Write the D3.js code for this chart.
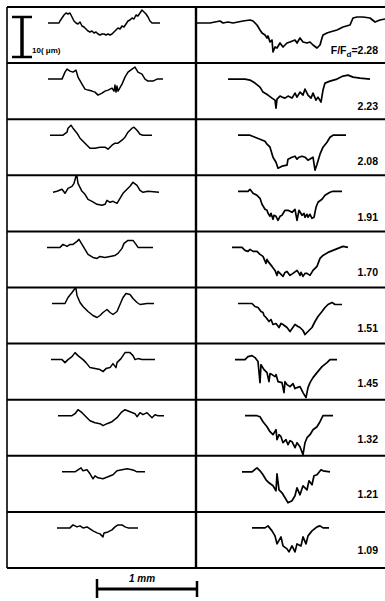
<!DOCTYPE html>
<html>
<head>
<meta charset="utf-8">
<script src="https://cdn.jsdelivr.net/npm/d3@7"></script>
<style>
  html, body { margin: 0; padding: 0; background: #fff; }
  svg { display: block; }
  text { font-family: "Liberation Sans", Arial, sans-serif; fill: #000; }
</style>
</head>
<body>
<svg id="fig" width="385" height="601"></svg>
<script>
// Surface profiles: [distance along scan (mm), height (µm)], one array per panel.
// Left column: profiles at low load; right column: profiles labelled by F/Fd.
const L1 = [[0.41,0],[0.52,0],[0.53,0.5],[0.55,1.25],[0.57,2],[0.59,2.5],[0.61,2.25],[0.63,2.5],[0.65,1.5],[0.67,0.5],[0.69,0],[0.71,-0.25],[0.73,0.25],[0.75,-0.75],[0.77,-1],[0.79,-1.5],[0.81,-2],[0.83,-2.25],[0.85,-2],[0.87,-2.5],[0.89,-2.25],[0.91,-2.75],[0.93,-3],[0.95,-2.75],[0.97,-2.75],[0.99,-3],[1.01,-2.75],[1.03,-3],[1.05,-2.75],[1.07,-2.25],[1.09,-1.75],[1.11,-1.25],[1.13,-1.5],[1.15,-0.75],[1.17,-1],[1.19,-0.25],[1.21,0.5],[1.23,0.75],[1.25,1.25],[1.27,1],[1.29,2],[1.31,1.75],[1.33,2.5],[1.35,3.25],[1.37,2.75],[1.39,2.25],[1.41,1.5],[1.43,0.5],[1.45,0],[1.53,0]];
const L2 = [[0.41,0],[0.55,0],[0.58,1.75],[0.60,2.5],[0.63,2],[0.66,1.75],[0.69,2.25],[0.71,0.5],[0.75,-1.25],[0.78,-2.5],[0.81,-2.75],[0.85,-3],[0.88,-3.25],[0.91,-4],[0.95,-3.5],[0.98,-3],[1.01,-2.75],[1.05,-2.25],[1.07,-3],[1.08,-1.5],[1.09,-3.25],[1.10,-1.75],[1.11,-3],[1.15,-1.25],[1.18,0.5],[1.21,1.75],[1.25,2.5],[1.28,3],[1.31,1.75],[1.35,1.25],[1.38,0],[1.41,-0.5],[1.46,-0.5],[1.50,0],[1.56,0]];
const L3 = [[0.43,0],[0.56,0],[0.60,0.75],[0.61,1.75],[0.64,2.5],[0.66,1.75],[0.70,0.5],[0.73,-0.75],[0.78,-2],[0.83,-3.25],[0.88,-3.25],[0.93,-3],[0.98,-3],[1.01,-3.5],[1.05,-2.5],[1.08,-2],[1.11,-2],[1.15,-1.25],[1.18,-0.5],[1.21,0.75],[1.25,1.75],[1.27,2],[1.30,1.25],[1.33,0.25],[1.36,0],[1.45,0]];
const L4 = [[0.46,-0.25],[0.50,0],[0.55,0.5],[0.58,-0.5],[0.61,0.75],[0.65,1.25],[0.67,2],[0.69,3.75],[0.70,3.75],[0.71,2],[0.75,0],[0.78,-0.75],[0.81,-2],[0.85,-2.5],[0.90,-3.25],[0.95,-3.5],[0.98,-3.25],[1.00,-2.25],[1.03,-2.75],[1.06,-2.5],[1.10,-3],[1.13,-1.75],[1.16,-0.5],[1.20,0.5],[1.23,1.25],[1.26,2.25],[1.30,1.5],[1.33,0.25],[1.36,-0.25],[1.41,0],[1.52,-0.25]];
const L5 = [[0.40,0],[0.53,0],[0.56,0.75],[0.60,0.25],[0.63,0.75],[0.66,0.75],[0.70,1.5],[0.72,2],[0.75,0.75],[0.78,-0.5],[0.81,-1.75],[0.86,-2.5],[0.90,-2.75],[0.93,-2.25],[0.98,-2.5],[1.03,-2.25],[1.08,-2],[1.11,-1.5],[1.15,-0.25],[1.17,1],[1.21,1.75],[1.26,1.75],[1.29,0.75],[1.31,0],[1.46,0]];
const L6 = [[0.45,0],[0.58,0],[0.61,1.5],[0.65,2.75],[0.68,3.75],[0.69,3.75],[0.70,2],[0.73,0.25],[0.76,-0.75],[0.81,-2],[0.86,-3],[0.90,-3.5],[0.93,-3],[0.96,-2.25],[1.00,-1.5],[1.03,-2.25],[1.06,-2.75],[1.10,-2],[1.13,-0.25],[1.16,1.5],[1.19,2.5],[1.23,2.25],[1.26,1.25],[1.30,0.25],[1.33,-0.25],[1.40,0],[1.47,0]];
const L7 = [[0.44,0],[0.55,0],[0.58,-0.75],[0.61,0],[0.65,0.75],[0.68,1.75],[0.71,1],[0.76,0],[0.79,-0.75],[0.83,-2],[0.88,-2.25],[0.93,-2.5],[0.96,-3],[0.99,-2.25],[1.03,-2],[1.06,-1],[1.09,-2],[1.10,-0.75],[1.14,0.25],[1.18,1.75],[1.23,1.75],[1.26,1],[1.28,0],[1.31,0.25],[1.35,0],[1.48,0]];
const L8 = [[0.51,0],[0.65,0],[0.68,0.5],[0.71,1.5],[0.75,0.75],[0.78,0],[0.83,-1.25],[0.88,-1.75],[0.93,-2],[0.96,-2.5],[1.00,-2],[1.05,-1.5],[1.10,-0.5],[1.14,0.75],[1.18,1.5],[1.23,1],[1.28,0.5],[1.30,-0.25],[1.33,0.75],[1.36,0.25],[1.40,0.75],[1.45,-0.5],[1.48,0.25],[1.51,0],[1.57,0]];
const L9 = [[0.55,0],[0.68,0],[0.71,0.5],[0.74,1],[0.76,0.25],[0.80,0.5],[0.83,-0.5],[0.86,-1.75],[0.88,-1],[0.91,-1.5],[0.96,-1.75],[1.01,-1.25],[1.06,-0.75],[1.10,0.25],[1.15,0.5],[1.20,0.75],[1.25,0.5],[1.28,0.25],[1.30,0],[1.38,0]];
const L10 = [[0.50,0],[0.63,0],[0.66,0.75],[0.70,0.25],[0.73,0.5],[0.76,0],[0.80,0.25],[0.83,-0.25],[0.86,-0.75],[0.90,-1.25],[0.93,-1.5],[0.96,-2.25],[0.97,-1.25],[1.01,-1],[1.05,-0.5],[1.08,0.25],[1.11,0.75],[1.15,0.75],[1.18,0.25],[1.21,0],[1.31,0]];

const R1 = [[0.01,0],[0.14,0],[0.19,0.25],[0.24,0.5],[0.27,0],[0.32,0.25],[0.37,0],[0.42,0.25],[0.47,0.5],[0.54,0.75],[0.57,0.5],[0.61,-0.5],[0.64,-1.75],[0.66,-2.5],[0.69,-3],[0.71,-3.75],[0.72,-3.25],[0.74,-4.75],[0.76,-4.25],[0.77,-7.25],[0.79,-6],[0.81,-6.25],[0.84,-5],[0.87,-6],[0.91,-5],[0.94,-4.75],[0.99,-4.25],[1.01,-5],[1.04,-3.75],[1.07,-4.75],[1.11,-5],[1.14,-4.75],[1.17,-5.5],[1.21,-6.25],[1.24,-5.5],[1.26,-3.75],[1.27,-3],[1.31,-2.5],[1.34,-2.25],[1.41,-1.75],[1.47,-1],[1.54,-0.5],[1.57,1.25],[1.61,1.5],[1.67,1.5],[1.74,1.25],[1.79,0.25],[1.84,0.75],[1.89,1]];
const R2 = [[0.32,0],[0.49,0],[0.54,-0.25],[0.59,-1],[0.64,-2],[0.67,-3.25],[0.72,-4],[0.76,-4.75],[0.79,-5.25],[0.80,-7.25],[0.81,-5],[0.84,-4.25],[0.86,-4.5],[0.89,-4.75],[0.92,-4.25],[0.96,-4.75],[0.99,-3.5],[1.01,-4.5],[1.04,-3.25],[1.07,-4],[1.09,-2.5],[1.12,-4],[1.15,-4.75],[1.17,-3.5],[1.20,-5.25],[1.22,-4.5],[1.25,-5.75],[1.27,-2.75],[1.29,-1],[1.34,-0.5],[1.41,0],[1.47,0.75],[1.52,1],[1.57,0.5],[1.64,0.25],[1.74,0]];
const R3 = [[0.42,0],[0.54,0],[0.59,-0.5],[0.64,-1],[0.69,-1.5],[0.71,-2.25],[0.74,-3],[0.77,-5.5],[0.80,-6.75],[0.82,-8.25],[0.86,-7.75],[0.91,-7.5],[0.92,-6],[0.96,-5.5],[0.99,-5.25],[1.01,-6],[1.03,-5.5],[1.06,-5.25],[1.09,-5.5],[1.12,-6.25],[1.17,-5.5],[1.19,-8.75],[1.21,-7.25],[1.24,-4.75],[1.27,-3],[1.31,-1.75],[1.34,-0.5],[1.37,0],[1.50,0]];
const R4 = [[0.42,0],[0.52,0],[0.54,0.5],[0.57,-0.5],[0.61,-1],[0.64,-1.75],[0.66,-3.25],[0.69,-4.5],[0.71,-4.75],[0.72,-5.5],[0.74,-6.25],[0.75,-5.5],[0.77,-7],[0.78,-6],[0.80,-6.25],[0.82,-7.25],[0.84,-6.25],[0.86,-6],[0.89,-4.75],[0.92,-4.75],[0.96,-5.25],[0.99,-4.5],[1.01,-7.25],[1.03,-4.75],[1.06,-6],[1.08,-5.5],[1.09,-6.5],[1.11,-5.75],[1.12,-6.5],[1.14,-5.75],[1.16,-6.75],[1.18,-6.5],[1.20,-4],[1.22,-2.75],[1.26,-2],[1.29,-1],[1.34,-0.25],[1.37,0],[1.46,0]];
const R5 = [[0.36,0],[0.46,0],[0.49,-0.75],[0.52,-1],[0.54,-0.5],[0.57,-1],[0.61,-1],[0.64,-1.75],[0.67,-2.25],[0.70,-4],[0.71,-3],[0.72,-3.5],[0.76,-4.75],[0.79,-5.75],[0.81,-7],[0.82,-6],[0.84,-6.5],[0.87,-7.25],[0.89,-6.25],[0.91,-6],[0.94,-7],[0.97,-6.5],[1.01,-5.75],[1.03,-6.5],[1.04,-7],[1.05,-6.25],[1.07,-7.25],[1.09,-6.5],[1.11,-6.5],[1.14,-7],[1.17,-5.75],[1.21,-4.75],[1.24,-2.75],[1.27,-2],[1.32,-1.25],[1.37,-0.75],[1.42,-0.25],[1.47,0.25],[1.52,0]];
const R6 = [[0.42,0],[0.56,0],[0.59,-0.75],[0.62,-1],[0.65,-2],[0.67,-2.25],[0.68,-3],[0.70,-3.5],[0.73,-4.5],[0.75,-4],[0.77,-5.25],[0.80,-5],[0.83,-6],[0.85,-5],[0.87,-5.25],[0.91,-6],[0.94,-7],[0.99,-5.25],[1.02,-5.75],[1.04,-6],[1.07,-6.75],[1.09,-7.75],[1.12,-7],[1.16,-6],[1.19,-4.5],[1.22,-3.25],[1.26,-2],[1.29,-1],[1.32,-0.25],[1.36,0.25],[1.39,-0.25],[1.46,-0.25]];
const R7 = [[0.39,0],[0.49,0],[0.52,0.75],[0.56,1],[0.59,0.5],[0.62,-0.5],[0.64,-5.75],[0.65,-1.25],[0.68,-2.5],[0.71,-3.25],[0.73,-5.5],[0.74,-3.5],[0.76,-3.75],[0.79,-4.25],[0.80,-3.75],[0.82,-5.5],[0.86,-5.75],[0.88,-8.25],[0.89,-5.5],[0.91,-6.25],[0.94,-6.75],[0.97,-6],[0.99,-7.25],[1.01,-7],[1.04,-6.75],[1.07,-8.25],[1.10,-9.5],[1.12,-7],[1.14,-5.75],[1.17,-4.5],[1.21,-3.25],[1.26,-1.75],[1.31,-0.75],[1.34,0],[1.41,0]];
const R8 = [[0.49,0],[0.61,0],[0.64,-0.25],[0.67,-1.5],[0.71,-2.75],[0.74,-4],[0.77,-4.75],[0.80,-3.5],[0.81,-6],[0.83,-4.75],[0.85,-5.25],[0.87,-6.75],[0.90,-6],[0.92,-7.25],[0.94,-6.25],[0.96,-6.5],[0.99,-8],[1.01,-6.75],[1.04,-7.75],[1.07,-9.75],[1.09,-6.75],[1.11,-5.5],[1.14,-4.75],[1.17,-3.5],[1.21,-2.75],[1.24,-1.5],[1.27,0],[1.37,0]];
const R9 = [[0.46,0],[0.56,0],[0.61,1],[0.64,0.25],[0.67,-0.75],[0.70,-2],[0.73,-2.75],[0.77,-3.5],[0.80,-4.75],[0.81,-0.5],[0.83,-4.5],[0.86,-5.25],[0.89,-6.5],[0.92,-7.75],[0.96,-7.25],[0.99,-6],[1.01,-4],[1.04,-5.75],[1.07,-3.5],[1.11,-4.5],[1.13,-2.25],[1.16,-3.25],[1.18,-1],[1.21,-0.75],[1.25,0.5],[1.27,0.25],[1.34,0]];
const R10 = [[0.56,0],[0.69,0],[0.72,0.5],[0.76,-0.75],[0.79,-2],[0.81,-4],[0.85,-2.25],[0.87,-4.5],[0.91,-5.25],[0.93,-6],[0.96,-4.5],[0.99,-6],[1.01,-4],[1.05,-4.5],[1.07,-2.25],[1.10,-4],[1.12,-2],[1.16,-0.75],[1.21,0.25],[1.24,0.5],[1.27,0],[1.33,0]];

const leftProfiles = [L1, L2, L3, L4, L5, L6, L7, L8, L9, L10];
const rightProfiles = [R1, R2, R3, R4, R5, R6, R7, R8, R9, R10];
const ratioLabels = ["2.28", "2.23", "2.08", "1.91", "1.70", "1.51", "1.45", "1.32", "1.21", "1.09"];
const heightBar = 10;     // µm, vertical scale bar
const lengthBar = 1;      // mm, horizontal scale bar

const svg = d3.select("#fig");

// Panel grid
const frame = { left: 7, mid: 196, right: 388, top: 7, bottom: 568 };
const rows = d3.scaleBand().domain(d3.range(ratioLabels.length)).range([frame.top, frame.bottom]);
const baseOffset = 16;

// 1 mm = 100 px horizontally, 1 µm = 4 px vertically
const x = d3.scaleLinear().domain([0, 1]).range([0, 100]);
const y = d3.scaleLinear().domain([0, 10]).range([0, -40]);

const line = d3.line().x(d => x(d[0])).y(d => y(d[1]));

// frame lines
const g = svg.append("g").attr("stroke", "#000").attr("fill", "none");
g.append("line").attr("x1", frame.left).attr("x2", frame.left).attr("y1", frame.top).attr("y2", frame.bottom).attr("stroke-width", 1.6);
g.append("line").attr("x1", frame.mid).attr("x2", frame.mid).attr("y1", frame.top).attr("y2", frame.bottom).attr("stroke-width", 2.4);
const hLines = d3.range(ratioLabels.length + 1).map(i => frame.top + i * rows.step());
g.selectAll("line.row").data(hLines).join("line").attr("class", "row")
  .attr("x1", frame.left).attr("x2", frame.right)
  .attr("y1", d => d).attr("y2", d => d)
  .attr("stroke-width", 2);

// profiles
function drawColumn(profiles, left, width) {
  svg.append("g").selectAll("path").data(profiles).join("path")
    .attr("transform", (d, i) => `translate(${left},${rows(i) + baseOffset})`)
    .attr("d", line)
    .attr("fill", "none")
    .attr("stroke", "#000")
    .attr("stroke-width", width)
    .attr("stroke-linejoin", "round");
}
drawColumn(leftProfiles, frame.left, 1.5);
drawColumn(rightProfiles, frame.mid, 1.7);

// F/Fd labels
const labels = svg.append("g").attr("font-weight", "bold").attr("font-size", 10.5).attr("text-anchor", "end");
labels.selectAll("text").data(ratioLabels).join("text")
  .attr("x", 378)
  .attr("y", (d, i) => rows(i) + 47 - i * 0.6)
  .each(function (d, i) {
    const t = d3.select(this);
    if (i === 0) {
      t.append("tspan").text("F/F");
      t.append("tspan").attr("dy", 3).attr("font-size", 8).text("d");
      t.append("tspan").attr("dy", -3).text("=" + d);
    } else {
      t.text(d);
    }
  });

// vertical scale bar (10 µm)
const vb = svg.append("g").attr("transform", "translate(22,57)").attr("stroke", "#000");
vb.append("line").attr("x1", 0).attr("x2", 0).attr("y1", 0).attr("y2", y(heightBar)).attr("stroke-width", 3.5);
vb.append("line").attr("x1", -10).attr("x2", 10).attr("y1", y(heightBar)).attr("y2", y(heightBar)).attr("stroke-width", 2.5);
vb.append("line").attr("x1", -10).attr("x2", 10).attr("y1", 0).attr("y2", 0).attr("stroke-width", 2.5);
svg.append("text").attr("x", 32).attr("y", 53).attr("font-size", 8).attr("font-weight", "bold")
  .text("10( μm)");

// horizontal scale bar (1 mm)
const hb = svg.append("g").attr("transform", "translate(97,589)").attr("stroke", "#000");
hb.append("line").attr("x1", 0).attr("x2", x(lengthBar)).attr("y1", 0).attr("y2", 0).attr("stroke-width", 3);
hb.append("line").attr("x1", 0).attr("x2", 0).attr("y1", -10).attr("y2", 9).attr("stroke-width", 2.5);
hb.append("line").attr("x1", x(lengthBar)).attr("x2", x(lengthBar)).attr("y1", -8).attr("y2", 8).attr("stroke-width", 2.5);
svg.append("text").attr("x", 142).attr("y", 582).attr("text-anchor", "middle")
  .attr("font-size", 10).attr("font-weight", "bold").attr("font-style", "italic")
  .text("1 mm");
</script>
</body>
</html>
